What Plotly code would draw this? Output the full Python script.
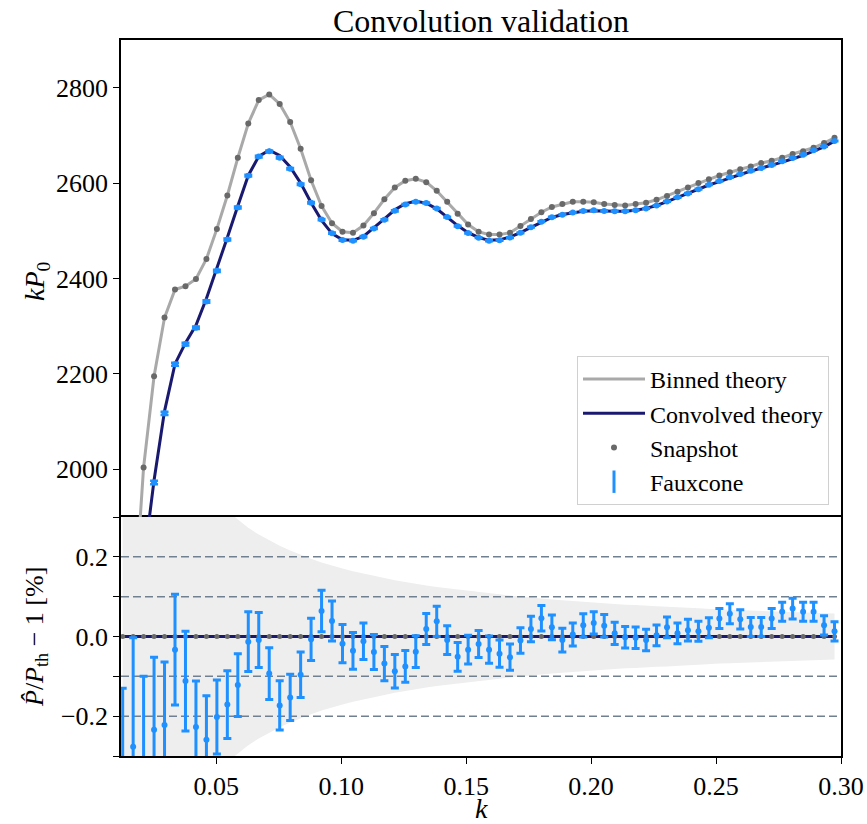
import plotly.graph_objects as go

# Wavenumber bins (h/Mpc)
k = [0.01257, 0.01676, 0.02094, 0.02513, 0.02932, 0.03351, 0.03770, 0.04189,
     0.04608, 0.05027, 0.05445, 0.05864, 0.06283, 0.06702, 0.07121, 0.07540,
     0.07959, 0.08378, 0.08796, 0.09215, 0.09634, 0.10053, 0.10472, 0.10891,
     0.11310, 0.11729, 0.12147, 0.12566, 0.12985, 0.13404, 0.13823, 0.14242,
     0.14661, 0.15080, 0.15499, 0.15917, 0.16336, 0.16755, 0.17174, 0.17593,
     0.18012, 0.18431, 0.18850, 0.19268, 0.19687, 0.20106, 0.20525, 0.20944,
     0.21363, 0.21782, 0.22201, 0.22619, 0.23038, 0.23457, 0.23876, 0.24295,
     0.24714, 0.25133, 0.25552, 0.25970, 0.26389, 0.26808, 0.27227, 0.27646,
     0.28065, 0.28484, 0.28903, 0.29322, 0.29741]

# k * P0 for the bin-averaged theory (also what the snapshot measures)
binned_kp0 = [1300, 1676, 2004, 2195, 2318, 2377, 2384, 2399, 2441, 2504,
              2574, 2653, 2725, 2774, 2786, 2766, 2728, 2672, 2606, 2552,
              2516, 2498, 2496, 2511, 2537, 2566, 2591, 2605, 2609, 2602,
              2584, 2561, 2536, 2513, 2498, 2492, 2492, 2496, 2510, 2525,
              2539, 2550, 2556, 2561, 2561, 2560, 2556, 2554, 2553, 2556,
              2559, 2565, 2573, 2582, 2591, 2600, 2608, 2616, 2623, 2629,
              2635, 2642, 2647, 2653, 2661, 2667, 2674, 2684, 2695]

# k * P0 for the window-convolved theory
convolved_kp0 = [1250, 1550, 1802, 1977, 2122, 2221, 2265, 2302, 2358, 2421,
                 2486, 2552, 2616, 2656, 2669, 2658, 2634, 2600, 2559, 2522,
                 2494, 2481, 2480, 2488, 2506, 2525, 2544, 2557, 2562, 2558,
                 2546, 2529, 2511, 2496, 2486, 2480, 2481, 2487, 2496, 2507,
                 2518, 2528, 2534, 2538, 2541, 2542, 2541, 2541, 2541, 2543,
                 2547, 2553, 2561, 2570, 2578, 2587, 2596, 2603, 2611, 2618,
                 2625, 2631, 2637, 2644, 2651, 2658, 2667, 2676, 2688]

# Fauxcone mean relative to convolved theory, in percent, and its error
fauxcone_resid = [-0.400, -0.277, -0.340, -0.234, -0.222, -0.033, -0.112, -0.227,
                  -0.259, -0.202, -0.171, -0.122, -0.013, -0.009, -0.093, -0.173,
                  -0.153, -0.096, -0.007, 0.064, 0.039, -0.018, -0.036, -0.012,
                  -0.039, -0.068, -0.087, -0.075, -0.038, 0.019, 0.038, -0.009,
                  -0.051, -0.033, -0.019, -0.033, -0.043, -0.052, -0.010, 0.019,
                  0.046, 0.023, -0.009, 0.005, 0.028, 0.034, 0.027, 0.008,
                  -0.002, -0.003, -0.009, 0.003, 0.023, 0.008, 0.016, 0.013,
                  0.022, 0.045, 0.057, 0.043, 0.024, 0.024, 0.045, 0.062,
                  0.070, 0.062, 0.062, 0.028, 0.013]
fauxcone_err = [0.270, 0.274, 0.240, 0.182, 0.158, 0.139, 0.125, 0.115,
                0.110, 0.093, 0.085, 0.079, 0.075, 0.069, 0.065, 0.062,
                0.058, 0.057, 0.053, 0.052, 0.050, 0.048, 0.046, 0.046,
                0.044, 0.043, 0.042, 0.040, 0.040, 0.039, 0.038, 0.036,
                0.036, 0.036, 0.034, 0.034, 0.034, 0.033, 0.032, 0.032,
                0.032, 0.031, 0.030, 0.029, 0.029, 0.028, 0.028, 0.028,
                0.027, 0.027, 0.027, 0.026, 0.026, 0.026, 0.027, 0.025,
                0.025, 0.025, 0.025, 0.024, 0.024, 0.024, 0.025, 0.024,
                0.026, 0.024, 0.024, 0.024, 0.024]

# Expected scatter of a single realisation (percent), shaded band
band_pct = [1.37, 1.03, 0.82, 0.68, 0.59, 0.51, 0.46, 0.41, 0.37, 0.34,
            0.315, 0.293, 0.273, 0.256, 0.241, 0.228, 0.216, 0.205, 0.195, 0.186,
            0.178, 0.171, 0.164, 0.158, 0.152, 0.146, 0.141, 0.137, 0.132, 0.128,
            0.124, 0.121, 0.117, 0.114, 0.111, 0.108, 0.105, 0.103, 0.100, 0.098,
            0.095, 0.093, 0.091, 0.089, 0.087, 0.085, 0.084, 0.082, 0.080, 0.079,
            0.077, 0.076, 0.075, 0.073, 0.072, 0.071, 0.069, 0.068, 0.067, 0.066,
            0.065, 0.064, 0.063, 0.062, 0.061, 0.060, 0.059, 0.059, 0.058]

# Reference levels in the residual panel (percent)
ref_levels = [-0.2, -0.1, 0.1, 0.2]

K_RANGE = [0.0119, 0.30]
TOP_RANGE = [1900, 2900]
BOT_RANGE = [-0.3, 0.3]

GRAY_LINE = "#a9a9a9"
GRAY_DOT = "#696969"
NAVY = "#191970"
BLUE = "#1e90ff"
FONT = "Liberation Serif"

fauxcone_kp0 = [c * (1 + r / 100) for c, r in zip(convolved_kp0, fauxcone_resid)]
fauxcone_kp0_err = [c * e / 100 for c, e in zip(convolved_kp0, fauxcone_err)]
snapshot_resid = [(b / b - 1) * 100 for b in binned_kp0]
convolved_resid = [(c / c - 1) * 100 for c in convolved_kp0]

fig = go.Figure()

# ---- top panel: k P0 ----
fig.add_trace(go.Scatter(x=k, y=binned_kp0, mode="lines", name="Binned theory",
                         line=dict(color=GRAY_LINE, width=3),
                         xaxis="x2", yaxis="y2", legendgroup="a"))
fig.add_trace(go.Scatter(x=k, y=convolved_kp0, mode="lines", name="Convolved theory",
                         line=dict(color=NAVY, width=3),
                         xaxis="x2", yaxis="y2", legendgroup="b"))
fig.add_trace(go.Scatter(x=k, y=binned_kp0, mode="markers", name="Snapshot",
                         marker=dict(color=GRAY_DOT, size=6),
                         xaxis="x2", yaxis="y2", legendgroup="c"))
fig.add_trace(go.Scatter(x=k, y=fauxcone_kp0, mode="markers", name="Fauxcone",
                         marker=dict(color=BLUE, size=6),
                         error_y=dict(type="data", array=fauxcone_kp0_err,
                                      color=BLUE, thickness=2.5, width=4),
                         xaxis="x2", yaxis="y2", legendgroup="d", showlegend=False))
# legend key for the error-bar series
fig.add_trace(go.Scatter(x=[None], y=[None], mode="markers", name="Fauxcone",
                         marker=dict(color=BLUE, size=18, symbol="line-ns-open",
                                     line=dict(color=BLUE, width=3)),
                         xaxis="x2", yaxis="y2", legendgroup="d"))

# ---- bottom panel: residuals in percent ----
fig.add_trace(go.Scatter(x=k, y=[b for b in band_pct], mode="lines",
                         line=dict(width=0, color="#eeeeee"), hoverinfo="skip",
                         showlegend=False))
fig.add_trace(go.Scatter(x=k, y=[-b for b in band_pct], mode="lines",
                         line=dict(width=0, color="#eeeeee"), fill="tonexty",
                         fillcolor="#eeeeee", hoverinfo="skip", showlegend=False))
for lev in ref_levels:
    fig.add_trace(go.Scatter(x=K_RANGE, y=[lev, lev], mode="lines",
                             line=dict(color="#708090", width=1.5, dash="8px,4px"),
                             hoverinfo="skip", showlegend=False))
fig.add_trace(go.Scatter(x=k, y=convolved_resid, mode="lines",
                         line=dict(color=NAVY, width=3), showlegend=False))
fig.add_trace(go.Scatter(x=k, y=snapshot_resid, mode="markers",
                         marker=dict(color=GRAY_DOT, size=5), showlegend=False))
fig.add_trace(go.Scatter(x=k, y=fauxcone_resid, mode="markers",
                         marker=dict(color=BLUE, size=6),
                         error_y=dict(type="data", array=fauxcone_err,
                                      color=BLUE, thickness=3, width=4),
                         showlegend=False))

axis_common = dict(showline=True, linecolor="black", linewidth=1.5,
                   showgrid=False, zeroline=False, ticks="outside", ticklen=6,
                   tickwidth=1.2, tickcolor="black", automargin=False,
                   tickfont=dict(family=FONT, size=26, color="black"))

split = 239 / 716
PLOT_L, PLOT_W, PLOT_B, PLOT_H = 121, 720, 756, 716


def px_x(x):
    return (x - PLOT_L) / PLOT_W


def px_y(y):
    return (PLOT_B - y) / PLOT_H


# axis titles
axis_titles = [
    dict(text="<i>k</i>", x=px_x(481), y=px_y(808), textangle=0, size=28),
    dict(text="<i>kP</i><sub>0</sub>", x=px_x(36), y=px_y(281), textangle=-90, size=28),
    dict(text="<i>P̂</i>/<i>P</i><sub>th</sub> − 1 [%]", x=px_x(36), y=px_y(637),
         textangle=-90, size=26),
]
annotations = [dict(text=t["text"], x=t["x"], y=t["y"], xref="paper", yref="paper",
                    xanchor="center", yanchor="middle", textangle=t["textangle"],
                    showarrow=False, font=dict(family=FONT, size=t["size"], color="black"))
               for t in axis_titles]

fig.update_layout(
    width=867, height=824,
    margin=dict(l=121, r=26, t=40, b=68, autoexpand=False),
    plot_bgcolor="white", paper_bgcolor="white",
    font=dict(family=FONT, color="black"),
    title=dict(text="Convolution validation", x=0.5, xref="paper",
               y=1 - 21 / 824, yref="container", yanchor="middle", xanchor="center",
               font=dict(family=FONT, size=32, color="black")),
    xaxis=dict(domain=[0, 1], range=K_RANGE, anchor="y", dtick=0.05, tick0=0,
               tickformat=".2f", mirror=True, **axis_common),
    yaxis=dict(domain=[0, split], range=BOT_RANGE, anchor="x", dtick=0.2, tick0=0,
               tickformat=".1f", mirror=True,
               minor=dict(dtick=0.1, ticks="outside", ticklen=6, tickcolor="black"),
               **axis_common),
    xaxis2=dict(domain=[0, 1], range=K_RANGE, anchor="y2", matches="x",
                side="top", mirror=False,
                showticklabels=False, **{**axis_common, "ticks": ""}),
    yaxis2=dict(domain=[split, 1], range=TOP_RANGE, anchor="x2", dtick=200,
                mirror=True, **axis_common),
    annotations=annotations,
    legend=dict(x=px_x(829), xanchor="right", y=px_y(505), yanchor="bottom",
                bgcolor="white", bordercolor="#d0d0d0", borderwidth=1,
                font=dict(family=FONT, size=24, color="black"),
                tracegroupgap=0, traceorder="grouped", itemwidth=62),
    showlegend=True,
)

fig.write_html("out.html")
